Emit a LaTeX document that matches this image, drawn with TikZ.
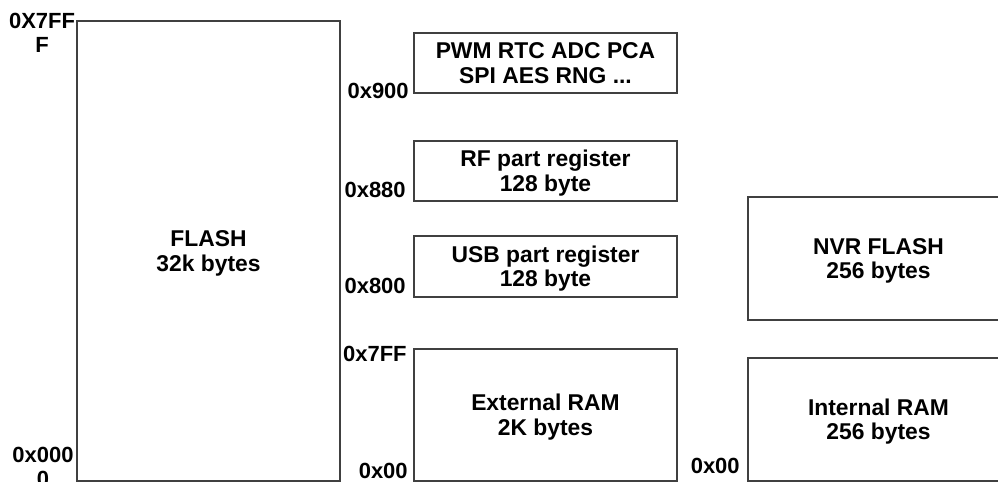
\documentclass[tikz,border=0pt]{standalone}
\usepackage{fontspec}
\setmainfont{Liberation Sans}
\usetikzlibrary{fit}
\definecolor{Edge}{HTML}{404040}

\begin{document}
\begin{tikzpicture}[
  x=0.02cm,y=-0.02cm,
  font=\bfseries,
  region/.style={draw=Edge,line width=0.6pt,inner sep=0pt},
  regtext/.style={inner sep=0pt,align=center,anchor=base,
    font=\fontsize{13}{14}\selectfont\bfseries},
  addr/.style={inner sep=0pt,align=center,
    font=\fontsize{12.5}{14.2}\selectfont\bfseries}
]
\useasboundingbox (0,0) rectangle (998,482);
% Program memory.
\node[region,fit={(77,21) (340,481)}] (flash) {};
\node[regtext] (flasht) at ([yshift=-0.41cm]flash.center) {FLASH\\32k bytes};
\node[addr,anchor=base] (ftop) at (42,53) {0X7FF\\F};
\node[addr,anchor=base] (fbot) at (43,487) {0x000\\0};

% External data space.
\foreach \n/\ya/\yb/\txt in {
    pwm/33/93/{PWM RTC ADC PCA\\SPI AES RNG ...},
    rf/141/201/{RF part register\\128 byte},
    usb/236/297/{USB part register\\128 byte},
    xram/349/481/{External RAM\\2K bytes}} {
  \node[region,fit={(414,\ya) (677,\yb)}] (\n) {};
  \node[regtext] (\n t) at ([yshift=-0.41cm]\n.center) {\txt};
}
\foreach \n/\x/\y/\txt in {a900/409/99/0x900, a880/406/198/0x880,
    a800/406/294/0x800, a7ff/407/362/0x7FF, a00/408/479/0x00,
    b00/740/474/0x00} {
  \node[addr,anchor=base east] (\n) at (\x,\y) {\txt};
}

% Internal data space.
\node[region,fit={(748,197) (1009,320)}] (nvr) {};
\node[regtext] (nvrt) at ([yshift=-0.41cm]nvr.center) {NVR FLASH\\256 bytes};
\node[region,fit={(748,358) (1009,481)}] (iram) {};
\node[regtext] (iramt) at ([yshift=-0.41cm]iram.center) {Internal RAM\\256 bytes};
\end{tikzpicture}
\end{document}
